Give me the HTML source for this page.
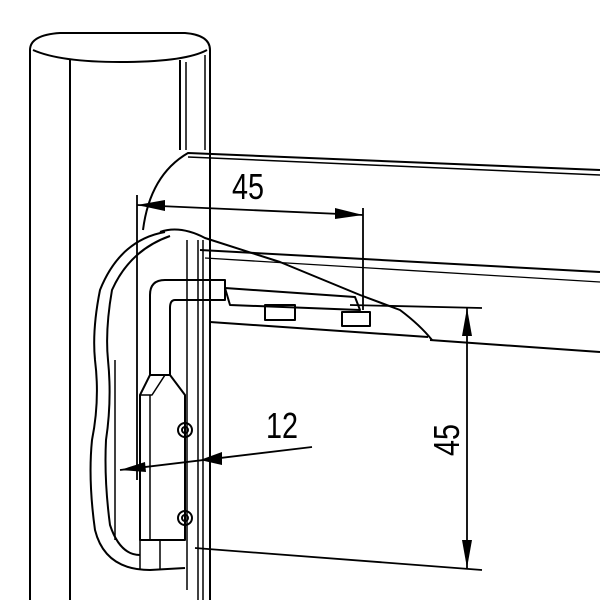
<!DOCTYPE html>
<html><head><style>body{margin:0;background:#fff}svg{display:block}</style></head><body>
<svg width="600" height="600" viewBox="0 0 600 600" xmlns="http://www.w3.org/2000/svg" fill="none" stroke="#000" stroke-width="2" stroke-linejoin="round">
<!-- post -->
<path d="M30,600 V50 Q30,35 60,33 H185 Q210,35 210,50 V600"/>
<path d="M33,50 Q60,62 120,62 Q185,62 207,50"/>
<line x1="70" y1="60" x2="70" y2="600"/>
<line x1="180" y1="60" x2="180" y2="150"/>
<line x1="186" y1="62" x2="186" y2="150" stroke-width="1.5"/>
<line x1="205" y1="55" x2="205" y2="150" stroke-width="1.5"/>
<!-- rail -->
<path d="M143,230 Q150,175 188,153 L600,170"/>
<line x1="188" y1="157" x2="600" y2="175" stroke-width="1.5"/>
<line x1="200" y1="250" x2="600" y2="272"/>
<line x1="205" y1="258" x2="600" y2="282" stroke-width="1.3"/>
<line x1="430" y1="340" x2="600" y2="352"/>
<path d="M160,232 Q180,225 205,238 L280,262 L360,295 L400,310 Q420,325 432,340"/>
<line x1="210" y1="322" x2="428" y2="337"/>
<!-- plate -->
<path d="M225,288 L355,297 L360,310 L230,305 Z"/>
<rect x="265" y="305" width="30" height="15"/>
<rect x="342" y="312" width="28" height="14"/>
<!-- post inner lines below rail -->
<line x1="187" y1="240" x2="187" y2="590" stroke-width="1.5"/>
<line x1="198" y1="240" x2="198" y2="600" stroke-width="1.5"/>
<line x1="203" y1="240" x2="203" y2="600" stroke-width="1.5"/>
<!-- hook -->
<path d="M150,375 V295 Q150,280 165,280 H225 V300 H175 Q170,300 170,308 V375"/>
<path d="M140,395 L150,375 H170 L185,395 V540 H140 Z"/>
<path d="M140,395 H152 L165,375" stroke-width="1.5"/>
<line x1="150" y1="395" x2="150" y2="540" stroke-width="1.5"/>
<circle cx="185" cy="430" r="7"/><circle cx="185" cy="430" r="3"/>
<circle cx="185" cy="518" r="7"/><circle cx="185" cy="518" r="3"/>
<!-- cover -->
<path d="M165,232 Q120,240 100,290 Q92,330 95,360 Q100,400 92,440 Q88,480 95,530 Q105,570 150,570 L185,568"/>
<path d="M170,236 Q130,250 112,290 Q105,330 108,360 Q112,400 106,440 Q104,480 110,525 Q120,555 140,555"/>
<line x1="115" y1="360" x2="115" y2="540" stroke-width="1.5"/>
<line x1="140" y1="540" x2="140" y2="570" stroke-width="1.5"/>
<line x1="160" y1="540" x2="160" y2="570" stroke-width="1.5"/>
<!-- dimensions -->
<g stroke-width="1.8">
<line x1="137" y1="195" x2="137" y2="480"/>
<line x1="363" y1="208" x2="363" y2="310"/>
<line x1="137" y1="205" x2="363" y2="215"/>
<line x1="350" y1="305" x2="482" y2="308"/>
<line x1="195" y1="548" x2="482" y2="570"/>
<line x1="467" y1="308" x2="467" y2="568"/>
<line x1="120" y1="470" x2="312" y2="447"/>
</g>
<g fill="#000" stroke="none">
<path d="M137,205 L165,200 L165,211 Z"/>
<path d="M363,215 L335,208 L335,219 Z"/>
<path d="M467,308 L462,336 L472,336 Z"/>
<path d="M467,568 L462,540 L472,540 Z"/>
<path d="M120,470 L145,462 L146,472 Z"/>
<path d="M200,460 L222,452 L222,465 Z"/>
</g>
<g fill="#000" stroke="none" font-family="Liberation Sans, sans-serif" font-size="36">
<text transform="translate(232,199) scale(0.8,1)">45</text>
<text transform="translate(266,438) scale(0.8,1)">12</text>
<text transform="translate(459,456) rotate(-90) scale(0.8,1)">45</text>
</g>
</svg>
</body></html>
